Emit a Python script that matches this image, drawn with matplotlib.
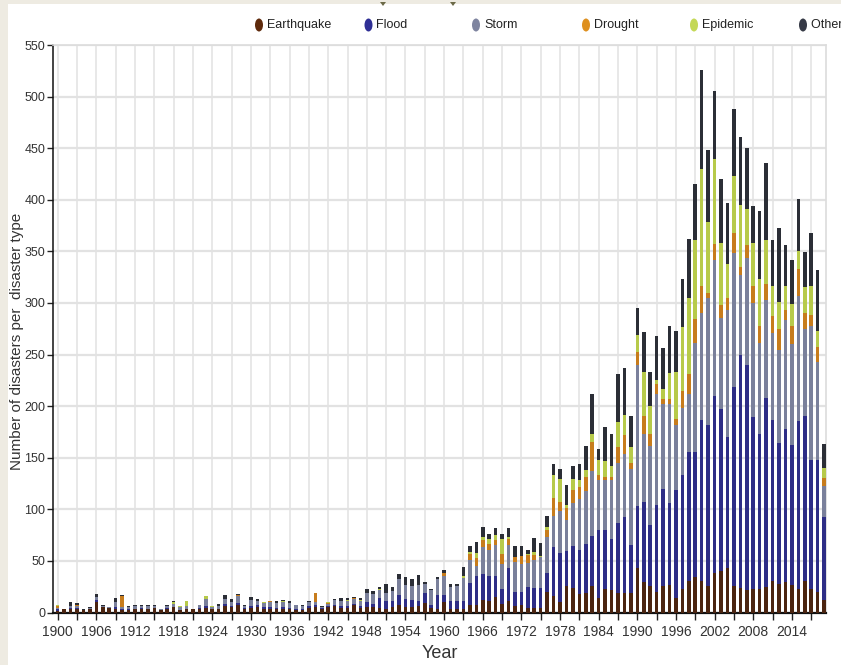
import numpy as np
import matplotlib
matplotlib.use('Agg')
import matplotlib.pyplot as plt
from matplotlib import font_manager
from matplotlib.patches import Ellipse, Rectangle, Polygon

W, H = 841, 665

years = np.arange(1900, 2020)

# counts per year, 1900..2019 (ten values per row = one decade)
earthquake = [1, 3, 3, 3, 2, 3, 10, 5, 4, 3,
              2, 2, 3, 3, 3, 4, 2, 3, 5, 2,
              3, 3, 3, 4, 3, 3, 6, 5, 7, 3,
              4, 5, 3, 3, 3, 3, 3, 2, 2, 4,
              5, 3, 5, 6, 4, 4, 7, 4, 5, 5,
              4, 3, 5, 7, 5, 5, 6, 9, 4, 3,
              10, 3, 3, 3, 7, 7, 12, 11, 15, 8,
              11, 6, 7, 4, 4, 4, 20, 16, 10, 26,
              24, 18, 19, 26, 14, 23, 22, 19, 19, 19,
              43, 30, 26, 20, 26, 27, 14, 23, 31, 34,
              31, 26, 38, 40, 43, 26, 24, 22, 23, 23,
              25, 31, 28, 30, 27, 23, 31, 23, 20, 12]
flood = [2, 0, 1, 1, 0, 0, 2, 0, 0, 2,
         1, 1, 0, 1, 0, 0, 0, 1, 0, 0,
         0, 0, 1, 2, 0, 0, 2, 1, 2, 1,
         2, 2, 2, 2, 1, 2, 1, 1, 1, 2,
         2, 1, 1, 1, 2, 2, 1, 2, 5, 3,
         10, 8, 6, 10, 8, 7, 5, 10, 3, 14,
         7, 8, 8, 8, 22, 28, 25, 24, 20, 15,
         32, 14, 13, 21, 20, 20, 18, 47, 48, 34,
         40, 43, 47, 48, 66, 57, 49, 68, 74, 46,
         60, 77, 59, 84, 94, 79, 105, 110, 125, 122,
         156, 156, 172, 157, 127, 193, 226, 218, 166, 150,
         183, 156, 136, 148, 135, 163, 159, 125, 128, 81]
storm = [1, 0, 2, 2, 0, 1, 3, 1, 1, 5,
         2, 2, 3, 2, 3, 2, 1, 2, 3, 3,
         3, 0, 3, 7, 2, 3, 5, 4, 7, 2,
         6, 4, 4, 5, 5, 5, 5, 4, 3, 4,
         3, 1, 2, 5, 5, 5, 5, 5, 9, 10,
         8, 8, 10, 15, 14, 14, 16, 9, 15, 15,
         18, 14, 15, 22, 22, 10, 26, 26, 30, 24,
         22, 29, 27, 23, 27, 30, 35, 31, 40, 30,
         42, 49, 52, 63, 48, 48, 57, 58, 61, 74,
         137, 66, 76, 108, 82, 96, 63, 65, 56, 105,
         103, 123, 132, 88, 123, 129, 77, 104, 111, 88,
         95, 84, 90, 105, 98, 121, 85, 130, 95, 30]
drought = [2, 0, 0, 1, 0, 0, 0, 0, 0, 0,
           11, 0, 0, 0, 0, 0, 0, 0, 0, 0,
           0, 0, 0, 0, 0, 0, 0, 0, 1, 0,
           0, 0, 0, 1, 0, 0, 0, 0, 0, 0,
           9, 0, 1, 0, 0, 0, 1, 0, 0, 0,
           0, 0, 0, 0, 0, 0, 0, 0, 0, 0,
           3, 0, 0, 0, 6, 8, 7, 5, 5, 10,
           6, 5, 8, 8, 5, 0, 7, 17, 9, 11,
           13, 12, 13, 28, 5, 3, 3, 15, 18, 6,
           12, 17, 12, 9, 5, 5, 6, 17, 19, 23,
           26, 5, 15, 13, 12, 20, 8, 12, 16, 17,
           15, 16, 21, 10, 18, 26, 15, 10, 14, 7]
epidemic = [1, 0, 0, 0, 0, 0, 0, 0, 0, 0,
            0, 0, 0, 0, 0, 0, 0, 0, 2, 1,
            5, 0, 0, 3, 1, 0, 0, 0, 0, 0,
            0, 0, 1, 0, 0, 1, 0, 0, 0, 0,
            0, 0, 1, 0, 0, 1, 0, 1, 0, 0,
            1, 0, 0, 0, 0, 0, 0, 0, 0, 0,
            0, 0, 0, 2, 2, 5, 3, 5, 5, 14,
            2, 0, 0, 1, 3, 1, 3, 22, 22, 3,
            10, 6, 7, 8, 15, 16, 11, 25, 19, 15,
            17, 43, 27, 4, 10, 25, 45, 62, 74, 77,
            114, 68, 83, 60, 33, 55, 60, 35, 42, 45,
            43, 29, 26, 23, 21, 17, 25, 28, 16, 10]
other = [0, 0, 4, 2, 1, 1, 3, 1, 0, 4,
         1, 1, 1, 1, 1, 1, 0, 1, 1, 0,
         0, 0, 0, 0, 0, 2, 4, 3, 1, 1,
         3, 2, 0, 0, 2, 1, 2, 0, 1, 1,
         0, 1, 0, 1, 3, 2, 1, 2, 4, 3,
         2, 9, 4, 5, 7, 6, 9, 2, 1, 2,
         3, 3, 2, 9, 5, 10, 10, 5, 7, 5,
         9, 10, 9, 4, 13, 12, 11, 11, 10, 20,
         13, 16, 23, 39, 10, 33, 31, 46, 46, 30,
         26, 39, 33, 43, 39, 46, 40, 46, 57, 54,
         96, 70, 65, 62, 59, 65, 66, 59, 36, 66,
         75, 45, 72, 40, 43, 51, 34, 52, 59, 23]

labels = ['Earthquake', 'Flood', 'Storm', 'Drought', 'Epidemic', 'Other types']
bar_colors = ['#4b2410', '#2e2d86', '#7a809b', '#c77c1c', '#b7ca4a', '#2b2e36']
legend_colors = ['#5e2a0c', '#2f2f95', '#7e849f', '#de901f', '#c4d857', '#363a46']

names = {f.name for f in font_manager.fontManager.ttflist}
narrow = 'Liberation Sans Narrow' if 'Liberation Sans Narrow' in names else 'Liberation Sans'
plt.rcParams['font.family'] = [narrow, 'DejaVu Sans']

fig = plt.figure(figsize=(W / 100, H / 100), dpi=100)
fig.patch.set_facecolor('white')
ax = fig.add_axes([53 / W, 1 - 612.5 / H, 773 / W, 567.5 / H])

bottom = np.zeros(len(years))
for vals, col in zip([earthquake, flood, storm, drought, epidemic, other], bar_colors):
    vals = np.array(vals, dtype=float)
    ax.bar(years, vals, width=0.55, bottom=bottom, color=col, linewidth=0, zorder=3)
    bottom += vals

ax.set_xlim(1899.27, 2019.3)
ax.set_ylim(0, 550)
ax.set_yticks(range(0, 551, 50))
ax.set_xticks(range(1900, 2019, 6))
ax.set_xticks(range(1903, 2020, 6), minor=True)

ax.grid(True, axis='y', color='#e2e2e2', lw=1.6, zorder=0)
ax.grid(True, axis='x', which='both', color='#e2e2e2', lw=1.1, zorder=0)
ax.set_axisbelow(True)

ax.tick_params(axis='both', which='both', direction='out', length=4, width=1,
               color='#222222', labelsize=9, labelcolor='#333333', pad=1.5)
ax.tick_params(axis='x', which='both', length=5, pad=4, labelsize=10)

for side in ['left', 'bottom']:
    ax.spines[side].set_color('#111111')
ax.spines['left'].set_linewidth(1.1)
ax.spines['bottom'].set_linewidth(1.6)
for side in ['top', 'right']:
    ax.spines[side].set_color('#dcdcdc')
    ax.spines[side].set_linewidth(1.2)

fig.text(17 / W, 1 - 341 / H, 'Number of disasters per  disaster type', rotation=90,
         fontsize=11, family=['Liberation Sans', 'DejaVu Sans'], color='#333333',
         ha='center', va='center')
fig.text(440 / W, 1 - 653 / H, 'Year', fontsize=13, color='#333333',
         ha='center', va='center')

# page frame and legend drawn in pixel coordinates
over = fig.add_axes([0, 0, 1, 1], facecolor='none')
over.set_xlim(0, W)
over.set_ylim(H, 0)
over.axis('off')
over.add_patch(Rectangle((0, 0), 8, H, color='#eeebe2', lw=0))
over.add_patch(Rectangle((0, 0), W, 4, color='#eeebe2', lw=0))
for tx in [383, 453]:
    over.add_patch(Polygon([(tx - 3, 2), (tx + 3, 2), (tx, 6)], color='#6c6a48', lw=0))

legend_x = [259, 368.5, 476, 586, 694, 803]
for lx, lab, col in zip(legend_x, labels, legend_colors):
    over.add_patch(Ellipse((lx, 25), 8, 13, color=col, lw=0))
    over.text(lx + 8, 25, lab, fontsize=9, color='#222222', ha='left', va='center')

fig.savefig('out.png', dpi=100)
